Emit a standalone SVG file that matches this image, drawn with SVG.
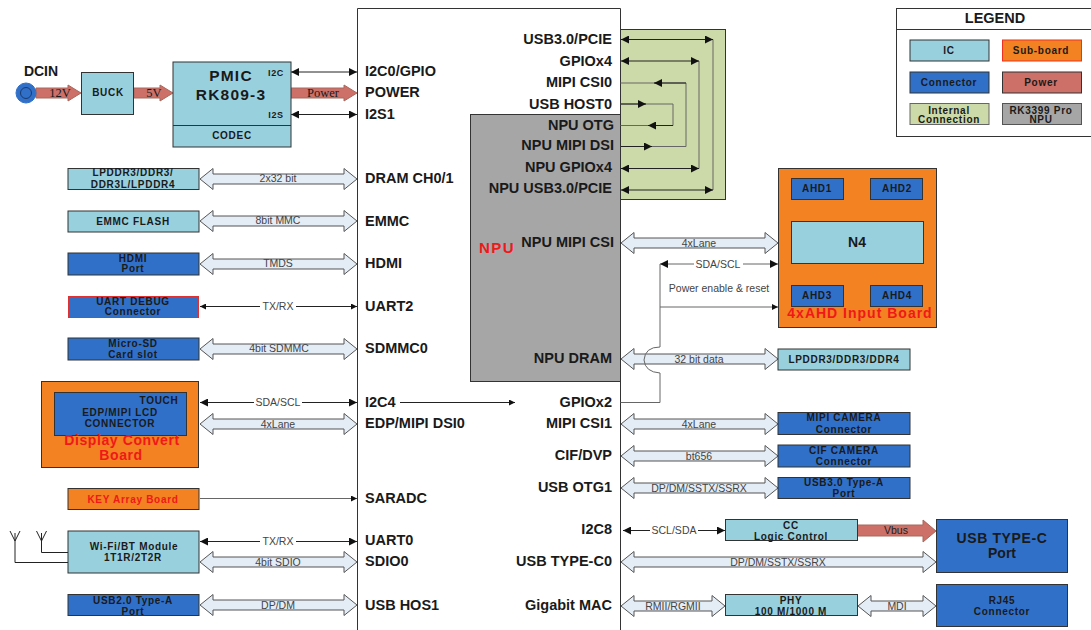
<svg xmlns="http://www.w3.org/2000/svg" width="1091" height="630" viewBox="0 0 1091 630">
<style>
text{font-family:"Liberation Sans",Arial,sans-serif;text-anchor:middle;fill:#1a1a1a}
.b{stroke:#333;stroke-width:1}
.ic{fill:#99d0de}.con{fill:#3070c8}.sub{fill:#f28222}.pow{fill:#cc7068}.int{fill:#cbdaa8}.npu{fill:#a6a6a6}
.pin{font-size:14.5px;font-weight:bold;text-anchor:start}
.pr{font-size:14.5px;font-weight:bold;text-anchor:end}
.s{font-size:10px;font-weight:bold;letter-spacing:.7px}
.t{font-size:10.500px;fill:#444}
.v{font-family:"Liberation Serif",serif;font-size:12.500px}
.red{fill:#f01818;font-weight:bold}
.wide{fill:#e4ecf6;stroke:#555;stroke-width:1}
.pa{fill:#cc7068;stroke:#a8685c;stroke-width:1}
.l{fill:none;stroke:#222;stroke-width:1}
.g{fill:none;stroke:#666;stroke-width:1}
.gap{fill:#fff}
</style>
<defs>
<marker id="a" viewBox="0 0 10 10" refX="10" refY="5" markerWidth="10" markerHeight="8" orient="auto-start-reverse" markerUnits="userSpaceOnUse"><path d="M0 0L10 5L0 10z" fill="#111"/></marker>
<marker id="m" viewBox="0 0 10 10" refX="10" refY="5" markerWidth="7" markerHeight="6" orient="auto-start-reverse" markerUnits="userSpaceOnUse"><path d="M0 0L10 5L0 10z" fill="#111"/></marker>
<polygon id="d157" class="wide" points="0,0 13,-10.500 13,-5 144,-5 144,-10.500 157,0 144,10.500 144,5 13,5 13,10.500"/>
<polygon id="d315" class="wide" points="0,0 13,-10.500 13,-5 302,-5 302,-10.500 315,0 302,10.500 302,5 13,5 13,10.500"/>
<polygon id="d104" class="wide" points="0,0 13,-10.500 13,-5 91,-5 91,-10.500 104,0 91,10.500 91,5 13,5 13,10.500"/>
<polygon id="d78" class="wide" points="0,0 13,-10.500 13,-5 65,-5 65,-10.500 78,0 65,10.500 65,5 13,5 13,10.500"/>
</defs>
<rect width="1091" height="630" fill="#fff"/>

<g id="npu-block"><rect class="npu b" x="470.500" y="114.500" width="150" height="267"/></g>
<g id="internal-connection"><rect class="int b" x="620.500" y="29.500" width="105" height="170"/></g>
<g id="soc"><path d="M357.500 630V8.500H620.500V630" fill="none" stroke="#333"/>
<g class="pins">
<text class="pin" x="365" y="76">I2C0/GPIO</text>
<text class="pin" x="365" y="97">POWER</text>
<text class="pin" x="365" y="119">I2S1</text>
<text class="pin" x="365" y="183">DRAM CH0/1</text>
<text class="pin" x="365" y="226">EMMC</text>
<text class="pin" x="365" y="268">HDMI</text>
<text class="pin" x="365" y="311">UART2</text>
<text class="pin" x="365" y="353">SDMMC0</text>
<text class="pin" x="365" y="407">I2C4</text>
<text class="pin" x="365" y="428">EDP/MIPI DSI0</text>
<text class="pin" x="365" y="503">SARADC</text>
<text class="pin" x="365" y="545">UART0</text>
<text class="pin" x="365" y="566">SDIO0</text>
<text class="pin" x="365" y="610">USB HOS1</text>
<text class="pr" x="612" y="44">USB3.0/PCIE</text>
<text class="pr" x="612" y="66">GPIOx4</text>
<text class="pr" x="612" y="87">MIPI CSI0</text>
<text class="pr" x="612" y="109">USB HOST0</text>
<text class="pr" x="614" y="130">NPU OTG</text>
<text class="pr" x="614" y="150">NPU MIPI DSI</text>
<text class="pr" x="612" y="172">NPU GPIOx4</text>
<text class="pr" x="612" y="193">NPU USB3.0/PCIE</text>
<text class="pr" x="614" y="247">NPU MIPI CSI</text>
<text class="pr" x="612" y="363">NPU DRAM</text>
<text class="pr" x="612" y="407">GPIOx2</text>
<text class="pr" x="612" y="428">MIPI CSI1</text>
<text class="pr" x="612" y="460">CIF/DVP</text>
<text class="pr" x="612" y="492">USB OTG1</text>
<text class="pr" x="612" y="534">I2C8</text>
<text class="pr" x="612" y="566">USB TYPE-C0</text>
<text class="pr" x="612" y="610">Gigabit MAC</text>
<text class="red" x="497" y="253" font-size="15" letter-spacing="1.500">NPU</text>
</g></g>

<g id="connectors">
<polygon class="pa" points="36,88 68,88 68,85 81,93 68,101 68,98 36,98"/>
<polygon class="pa" points="134,88 160,88 160,85 173,93 160,101 160,98 134,98"/>
<polygon class="pa" points="291,88 344,88 344,85 357,93 344,101 344,98 291,98"/>
<polygon class="pa" points="857,525 923,525 923,520 936,531 923,542 923,536 857,536"/>
<path class="l" d="M291 72H357" marker-start="url(#a)" marker-end="url(#a)"/>
<path class="l" d="M291 114.500H357" marker-start="url(#a)" marker-end="url(#a)"/>
<use href="#d157" x="200" y="179"/><use href="#d157" x="200" y="221"/><use href="#d157" x="200" y="264"/>
<use href="#d157" x="200" y="349"/><use href="#d157" x="200" y="424"/><use href="#d157" x="200" y="562"/><use href="#d157" x="200" y="605"/>
<use href="#d157" x="621" y="243"/><use href="#d157" x="621" y="359"/><use href="#d157" x="621" y="424"/>
<use href="#d157" x="621" y="456"/><use href="#d157" x="621" y="488"/>
<use href="#d315" x="621" y="562"/><use href="#d104" x="621" y="606"/><use href="#d78" x="858" y="606"/>
<path class="l" d="M200 306.500H357" marker-start="url(#m)" marker-end="url(#m)"/>
<path class="l" d="M200 402.500H357" marker-start="url(#a)" marker-end="url(#a)"/>
<path class="l" d="M400 402.500H515" marker-end="url(#m)"/>
<path class="g" d="M200 498.500H357" marker-end="url(#m)"/>
<path class="l" d="M200 541.500H357" marker-start="url(#a)" marker-end="url(#a)"/>
<path class="l" d="M623 530.500H725" marker-start="url(#a)" marker-end="url(#a)"/>
<path class="g" d="M713 39.500V190M699 61V168.500M620.500 83H686V146.500H620.500M620.500 104H673V125.500H620.500"/>
<path class="l" d="M621 39.500H713" marker-start="url(#a)" marker-end="url(#a)"/>
<path class="l" d="M621 61H699" marker-start="url(#a)" marker-end="url(#a)"/>
<path class="l" d="M621 168.500H699" marker-start="url(#a)" marker-end="url(#a)"/>
<path class="l" d="M621 190H713" marker-start="url(#a)" marker-end="url(#a)"/>
<path class="l" d="M686 83H654" marker-end="url(#a)"/>
<path class="l" d="M620.500 146.500H652" marker-end="url(#a)"/>
<path class="l" d="M620.500 104H646" marker-end="url(#a)"/>
<path class="l" d="M673 125.500H648" marker-end="url(#a)"/>
<path class="g" d="M660 264H778" marker-start="url(#a)" marker-end="url(#a)"/>
<path class="g" d="M660 264V347Q645 347 644 360Q645 372 660 373V402.500H620.500"/>
<path class="g" d="M660 307H778" marker-end="url(#m)"/>
<path class="l" d="M817.500 200V222" marker-end="url(#m)"/>
<path class="l" d="M896.500 200V222" marker-end="url(#m)"/>
<path class="l" d="M817.500 285.500V264" marker-end="url(#m)"/>
<path class="l" d="M896.500 285.500V264" marker-end="url(#m)"/>
<path class="l" d="M15 533V562.500H68M41.500 533V552.500H68"/>
<path class="l" d="M10 531L15 541L20 531M36.500 531L41.500 541L46.500 531"/>
</g>

<g class="labels">
<rect class="gap" x="254" y="400" width="48" height="5"/>
<rect class="gap" x="260" y="304" width="36" height="5"/>
<rect class="gap" x="260" y="539" width="36" height="5"/>
<rect class="gap" x="694" y="262" width="49" height="5"/>
<rect class="gap" x="650" y="528" width="48" height="5"/>
<text x="60" y="97" class="v">12V</text>
<text x="154" y="97" class="v">5V</text>
<text x="323" y="97" class="v">Power</text>
<text x="896" y="534" class="t" style="fill:#222">Vbus</text>
<text x="278" y="182" class="t">2x32 bit</text>
<text x="278" y="224" class="t">8bit MMC</text>
<text x="278" y="267" class="t">TMDS</text>
<text x="278" y="310" class="t">TX/RX</text>
<text x="279" y="352" class="t">4bit SDMMC</text>
<text x="278" y="406" class="t">SDA/SCL</text>
<text x="278" y="428" class="t">4xLane</text>
<text x="278" y="545" class="t">TX/RX</text>
<text x="278" y="566" class="t">4bit SDIO</text>
<text x="278" y="609" class="t">DP/DM</text>
<text x="699" y="247" class="t">4xLane</text>
<text x="718" y="268" class="t">SDA/SCL</text>
<text x="719" y="292" class="t">Power enable &amp; reset</text>
<text x="699" y="363" class="t">32 bit data</text>
<text x="699" y="428" class="t">4xLane</text>
<text x="699" y="460" class="t">bt656</text>
<text x="699" y="492" class="t">DP/DM/SSTX/SSRX</text>
<text x="674" y="534" class="t">SCL/SDA</text>
<text x="778" y="566" class="t">DP/DM/SSTX/SSRX</text>
<text x="673" y="610" class="t">RMII/RGMII</text>
<text x="897" y="610" class="t">MDI</text>
<text x="41" y="76" font-size="14" font-weight="bold">DCIN</text>
</g>

<g id="dcin"><circle cx="26" cy="93" r="10" class="con" stroke="#3070c8"/><circle cx="26" cy="93" r="5.500" fill="none" stroke="#1a3a70"/></g>
<g id="buck"><rect class="ic b" x="81.500" y="72.500" width="52" height="42"/><text class="s" x="108" y="96">BUCK</text></g>
<g id="pmic"><rect class="ic b" x="173" y="62" width="118" height="85"/><path class="b" d="M173 125.500H291"/>
<text x="231" y="81" font-size="15.500" font-weight="bold" letter-spacing="1.200">PMIC</text>
<text x="231" y="100" font-size="15.500" font-weight="bold" letter-spacing="1.200">RK809-3</text>
<text x="276" y="76" font-size="9" font-weight="bold" letter-spacing=".6">I2C</text>
<text x="276" y="118" font-size="9" font-weight="bold" letter-spacing=".6">I2S</text>
<text class="s" x="232" y="139">CODEC</text></g>
<g id="lpddr-left"><rect class="ic b" x="68" y="168.500" width="131" height="21"/><text class="s" x="133" y="176">LPDDR3/DDR3/</text><text class="s" x="133" y="188">DDR3L/LPDDR4</text></g>
<g id="emmc-flash"><rect class="ic b" x="68" y="211" width="131" height="21"/><text class="s" x="133" y="225">EMMC FLASH</text></g>
<g id="hdmi"><rect class="con b" x="68" y="253" width="131" height="22"/><text class="s" x="133" y="262">HDMI</text><text class="s" x="133" y="272">Port</text></g>
<g id="uart-debug"><rect class="con" stroke="#e03030" x="68.500" y="296.500" width="130" height="21"/><text class="s" x="133" y="305">UART DEBUG</text><text class="s" x="133" y="315">Connector</text></g>
<g id="micro-sd"><rect class="con b" x="68" y="338" width="131" height="22"/><text class="s" x="133" y="347">Micro-SD</text><text class="s" x="133" y="358">Card slot</text></g>
<g id="display-board"><rect class="sub b" x="41.500" y="381.500" width="157" height="86"/>
<rect class="con b" x="54.500" y="392.500" width="132" height="43"/>
<text class="s" x="159" y="404">TOUCH</text><text class="s" x="120" y="416">EDP/MIPI LCD</text><text class="s" x="120" y="427">CONNECTOR</text>
<text class="red" x="122" y="445" font-size="14" letter-spacing=".6">Display Convert</text><text class="red" x="121" y="460" font-size="14" letter-spacing=".6">Board</text></g>
<g id="key-board"><rect class="sub b" x="68" y="488.500" width="131" height="21"/><text class="s red" x="133" y="503">KEY Array Board</text></g>
<g id="wifi"><rect class="ic b" x="68" y="531" width="131" height="42"/><text class="s" x="134" y="550">Wi-Fi/BT Module</text><text class="s" x="133" y="561">1T1R/2T2R</text></g>
<g id="usb2"><rect class="con b" x="68" y="594.500" width="131" height="21"/><text class="s" x="133" y="604">USB2.0 Type-A</text><text class="s" x="133" y="615">Port</text></g>

<g id="ahd-board"><rect class="sub b" x="778.500" y="168.500" width="158" height="159"/>
<text class="red" x="860" y="318" font-size="14" letter-spacing="1">4xAHD Input Board</text></g>
<g id="ahd1"><rect class="con b" x="791.500" y="178.500" width="52" height="21"/><text class="s" x="817" y="192">AHD1</text></g>
<g id="ahd2"><rect class="con b" x="870.500" y="178.500" width="52" height="21"/><text class="s" x="897" y="192">AHD2</text></g>
<g id="n4"><rect class="ic b" x="791.500" y="221.500" width="132" height="42"/><text x="857" y="247" font-size="14" font-weight="bold">N4</text></g>
<g id="ahd3"><rect class="con b" x="791.500" y="285.500" width="52" height="21"/><text class="s" x="817" y="299">AHD3</text></g>
<g id="ahd4"><rect class="con b" x="870.500" y="285.500" width="52" height="21"/><text class="s" x="897" y="299">AHD4</text></g>
<g id="lpddr-right"><rect class="ic b" x="778" y="349" width="132" height="21"/><text class="s" x="844" y="363">LPDDR3/DDR3/DDR4</text></g>
<g id="mipi-camera"><rect class="con b" x="778" y="412.500" width="132" height="22"/><text class="s" x="844" y="421">MIPI CAMERA</text><text class="s" x="844" y="433">Connector</text></g>
<g id="cif-camera"><rect class="con b" x="778" y="445" width="132" height="22"/><text class="s" x="844" y="454">CIF CAMERA</text><text class="s" x="844" y="465">Connector</text></g>
<g id="usb3"><rect class="con b" x="778" y="477.500" width="132" height="21"/><text class="s" x="844" y="486">USB3.0 Type-A</text><text class="s" x="844" y="497">Port</text></g>
<g id="cc"><rect class="ic b" x="725.500" y="519.500" width="132" height="21"/><text class="s" x="791" y="529">CC</text><text class="s" x="791" y="540">Logic Control</text></g>
<g id="usb-c"><rect class="con b" x="936.500" y="519.500" width="131" height="53"/><text x="1002" y="543" font-size="14" font-weight="bold" letter-spacing=".6">USB TYPE-C</text><text x="1002" y="558" font-size="14" font-weight="bold">Port</text></g>
<g id="phy"><rect class="ic b" x="725.500" y="594.500" width="132" height="21"/><text class="s" x="791" y="604">PHY</text><text class="s" x="791" y="615">100 M/1000 M</text></g>
<g id="rj45"><rect class="con b" x="936.500" y="584.500" width="131" height="42"/><text class="s" x="1002" y="604">RJ45</text><text class="s" x="1002" y="615">Connector</text></g>

<g id="legend"><rect x="896.500" y="8.500" width="196" height="128" fill="#fff" stroke="#333"/><path d="M896.500 29.500H1091" stroke="#333"/>
<text x="995" y="23" font-size="14.500" font-weight="bold">LEGEND</text>
<rect class="ic b" x="910" y="40" width="79" height="21"/><text class="s" x="949" y="54">IC</text>
<rect class="sub" stroke="#f03020" x="1002.500" y="40" width="79" height="21"/><text class="s" x="1041" y="54">Sub-board</text>
<rect class="con b" x="910" y="72" width="79" height="21"/><text class="s" x="949" y="86">Connector</text>
<rect class="pow b" x="1002.500" y="72" width="79" height="21"/><text class="s" x="1041" y="86">Power</text>
<rect class="int" stroke="#666" x="910" y="103.500" width="79" height="21"/><text class="s" x="949" y="114">Internal</text><text class="s" x="949" y="123">Connection</text>
<rect class="npu" stroke="#555" x="1002.500" y="103.500" width="79" height="21"/><text class="s" x="1041" y="114">RK3399 Pro</text><text class="s" x="1041" y="123">NPU</text>
</g>
</svg>
